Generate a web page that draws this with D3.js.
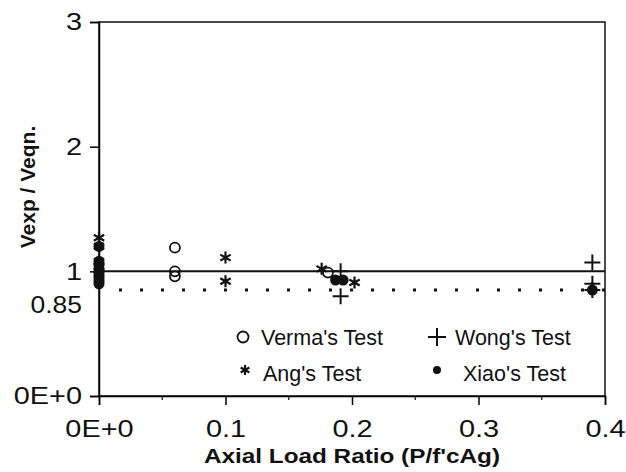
<!DOCTYPE html>
<html>
<head>
<meta charset="utf-8">
<script src="https://cdn.jsdelivr.net/npm/d3@7"></script>
<style>
  body { margin: 0; background: #fff; }
  text { font-family: "Liberation Sans", Arial, sans-serif; fill: #111; }
</style>
</head>
<body>
<div id="svganchor"></div>
<script>
let width = 626;
let height = 472;
let margin = { top: 22, right: 21, bottom: 76, left: 99 };

// data
let vermaX = [0.06, 0.06, 0.06, 0.181];
let vermaY = [1.19, 1.0, 0.96, 0.99];
let angX = [0, 0, 0, 0, 0.1, 0.1, 0.176, 0.202];
let angY = [1.27, 1.2, 1.08, 1.04, 1.11, 0.92, 1.02, 0.91];
let wongX = [0.191, 0.191, 0.39, 0.39, 0.39];
let wongY = [1.0, 0.8, 1.07, 0.9, 0.85];
let xiaoX = [0, 0, 0, 0, 0, 0, 0, 0, 0, 0, 0.187, 0.193, 0.39];
let xiaoY = [1.2, 1.08, 1.05, 1.02, 1.0, 0.98, 0.96, 0.94, 0.92, 0.9, 0.93, 0.93, 0.85];
let xTicks = [0, 0.1, 0.2, 0.3, 0.4];
let xTickLabels = ["0E+0", "0.1", "0.2", "0.3", "0.4"];
let xMinorTicks = [0.05, 0.15, 0.25, 0.35];
let yTicks = [0, 1, 2, 3];
let yTickLabels = ["0E+0", "1", "2", "3"];
let refLine = 1;
let limitLine = 0.85;
let legendNames = ["Verma's Test", "Wong's Test", "Ang's Test", "Xiao's Test"];

let svg = d3.select("#svganchor").append("svg").attr("width", width).attr("height", height);

let xScale = d3.scaleLinear().domain([0, 0.4]).range([margin.left, width - margin.right]);
let yScale = d3.scaleLinear().domain([0, 3]).range([height - margin.bottom, margin.top]);

// frame
svg.append("rect")
  .attr("x", margin.left).attr("y", margin.top)
  .attr("width", width - margin.left - margin.right)
  .attr("height", height - margin.top - margin.bottom)
  .attr("fill", "none").attr("stroke", "#111").attr("stroke-width", 1.5);

// x axis
let xAxis = d3.axisBottom(xScale).tickValues(xTicks)
  .tickFormat((d, i) => xTickLabels[i]).tickSize(9).tickPadding(15);
let gx = svg.append("g").attr("transform", "translate(0," + (height - margin.bottom) + ")").call(xAxis);
gx.select(".domain").attr("stroke-width", 1.5);
gx.selectAll(".tick line").attr("stroke-width", 1.5);
gx.selectAll("text").attr("font-size", 24.5).style("font-family", "Liberation Sans, Arial")
  .attr("transform", "scale(1.18,1)");

svg.append("g").attr("transform", "translate(0," + (height - margin.bottom) + ")")
  .selectAll("line").data(xMinorTicks).enter().append("line")
  .attr("x1", d => xScale(d)).attr("x2", d => xScale(d))
  .attr("y1", 0).attr("y2", 4).attr("stroke", "#111").attr("stroke-width", 1.2);

// y axis
let yAxis = d3.axisLeft(yScale).tickValues(yTicks)
  .tickFormat((d, i) => yTickLabels[i]).tickSize(9).tickPadding(8);
let gy = svg.append("g").attr("transform", "translate(" + margin.left + ",0)").call(yAxis);
gy.select(".domain").attr("stroke-width", 1.5);
gy.selectAll(".tick line").attr("stroke-width", 1.5);
gy.selectAll("text").attr("font-size", 24.5).style("font-family", "Liberation Sans, Arial")
  .attr("x", 0).attr("transform", "translate(-17,0) scale(1.18,1)");

gy.append("text")
  .attr("x", 0).attr("y", 0)
  .attr("transform", "translate(-17," + (yScale(limitLine) + 16) + ") scale(1.15,1)")
  .attr("dy", "0.32em").attr("text-anchor", "end")
  .attr("font-size", 23).attr("fill", "#111")
  .text(limitLine);

// reference lines
svg.append("line")
  .attr("x1", xScale(0)).attr("x2", xScale(0.4))
  .attr("y1", yScale(refLine)).attr("y2", yScale(refLine))
  .attr("stroke", "#111").attr("stroke-width", 2);
svg.append("line")
  .attr("x1", xScale(0) + 20).attr("x2", xScale(0.4))
  .attr("y1", yScale(limitLine)).attr("y2", yScale(limitLine))
  .attr("stroke", "#111").attr("stroke-width", 3)
  .attr("stroke-dasharray", "3,18");

// markers
let circleSym = (g, x, y, r) => g.append("circle").attr("cx", x).attr("cy", y).attr("r", r)
  .attr("fill", "none").attr("stroke", "#111").attr("stroke-width", 1.8);
let plusSym = (g, x, y, s) => g.append("path")
  .attr("d", `M${x - s},${y}H${x + s}M${x},${y - s}V${y + s}`)
  .attr("stroke", "#111").attr("stroke-width", 2);
let starSym = (g, x, y, s) => {
  let p = "";
  for (let k = 0; k < 3; k++) {
    let a = Math.PI / 2 + k * Math.PI / 3;
    p += `M${x - s * Math.cos(a)},${y - s * Math.sin(a)}L${x + s * Math.cos(a)},${y + s * Math.sin(a)}`;
  }
  return g.append("path").attr("d", p).attr("stroke", "#111").attr("stroke-width", 2.2);
};
let dotSym = (g, x, y, r) => g.append("circle").attr("cx", x).attr("cy", y).attr("r", r).attr("fill", "#111");

let marks = svg.append("g");
xiaoX.forEach((d, i) => dotSym(marks, xScale(d), yScale(xiaoY[i]), 5.5));
angX.forEach((d, i) => starSym(marks, xScale(d), yScale(angY[i]), 6));
vermaX.forEach((d, i) => circleSym(marks, xScale(d), yScale(vermaY[i]), 5));
wongX.forEach((d, i) => plusSym(marks, xScale(d), yScale(wongY[i]), 8));

// legend
let legendPos = [[243, 337], [437, 337], [245, 373], [437, 373]];
let legend = svg.append("g");
legendNames.forEach((name, i) => {
  let [lx, ly] = legendPos[i];
  if (i === 0) circleSym(legend, lx, ly, 5.5);
  if (i === 1) plusSym(legend, lx, ly, 9);
  if (i === 2) starSym(legend, lx, ly - 3, 5);
  if (i === 3) dotSym(legend, lx, ly - 3, 4);
  legend.append("text").attr("x", lx + (i === 3 ? 26 : 18)).attr("y", ly).attr("dy", "0.35em")
    .attr("font-size", 21.5).text(name);
});

// axis titles
svg.append("text")
  .attr("x", (margin.left + width - margin.right) / 2).attr("y", 456)
  .attr("text-anchor", "middle").attr("dy", "0.35em")
  .attr("font-size", 21).attr("font-weight", "bold")
  .attr("textLength", 296).attr("lengthAdjust", "spacingAndGlyphs")
  .text("Axial Load Ratio (P/f'cAg)");
svg.append("text")
  .attr("transform", "translate(28," + 187 + ") rotate(-90)")
  .attr("text-anchor", "middle").attr("dy", "0.35em")
  .attr("font-size", 21).attr("font-weight", "bold")
  .text("Vexp / Veqn.");
</script>
</body>
</html>
